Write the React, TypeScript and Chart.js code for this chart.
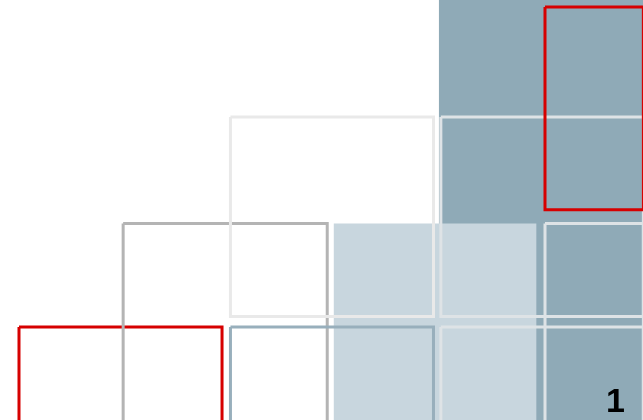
import React, { useEffect, useRef } from "react";
import { Chart, registerables } from "chart.js";

Chart.register(...registerables);

// Rectangles in grid units (x: columns, y: rows counted downward)
const rectLeft = [3.99, 2.99, 0, 0.99, 2.01, 2.01, 4.01, 5.0, 5.0, 4.01];
const rectRight = [5.98, 4.92, 1.93, 2.93, 3.94, 3.94, 5.935, 5.935, 5.935, 5.935];
const rectTop = [-0.5, 2.03, 3.0, 2.03, 1.03, 3.0, 1.03, 0, 2.03, 3.0];
const rectBottom = [3.95, 3.95, 4.9, 3.95, 2.9, 4.9, 2.9, 1.9, 3.95, 4.9];

// Styles (kept separate from the values)
const rectFilled = [true, true, false, false, false, false, false, false, false, false];
const rectColor = [
  "rgb(143,170,183)",
  "rgb(200,214,222)",
  "rgb(214,0,0)",
  "rgb(180,180,180)",
  "rgb(233,233,233)",
  "rgb(152,175,188)",
  "rgb(222,227,230)",
  "rgb(214,0,0)",
  "rgb(222,227,230)",
  "rgb(222,227,230)",
];
const rectLineWidth = [0, 0, 3, 3, 3, 3, 3, 3, 3, 3];

const cornerLabel = "1";

const X_MIN = -0.1806;
const X_MAX = 5.9316;
const Y_MIN = -0.0656;
const Y_MAX = 3.8707;

export default function App() {
  const canvasRef = useRef<HTMLCanvasElement | null>(null);

  useEffect(() => {
    const canvas = canvasRef.current;
    if (!canvas) return;
    const n = rectLeft.length;
    const datasets = rectLeft.map((x0, i) => {
      const x1 = rectRight[i];
      const y0 = rectTop[i];
      const y1 = rectBottom[i];
      if (rectFilled[i]) {
        return {
          data: [
            { x: x0, y: y0 },
            { x: x1, y: y0 },
          ],
          fill: { value: y1 },
          backgroundColor: rectColor[i],
          borderColor: rectColor[i],
          borderWidth: 0,
          pointRadius: 0,
          tension: 0,
          order: n - i,
        };
      }
      return {
        data: [
          { x: x0, y: y0 },
          { x: x1, y: y0 },
          { x: x1, y: y1 },
          { x: x0, y: y1 },
          { x: x0, y: y0 },
        ],
        fill: false,
        borderColor: rectColor[i],
        backgroundColor: "transparent",
        borderWidth: rectLineWidth[i],
        borderJoinStyle: "miter" as const,
        pointRadius: 0,
        tension: 0,
        order: n - i,
      };
    });

    const chart = new Chart(canvas, {
      type: "line",
      data: { datasets: datasets as any },
      options: {
        animation: false,
        responsive: false,
        devicePixelRatio: 1,
        layout: { padding: 0 },
        plugins: {
          legend: { display: false },
          tooltip: { enabled: false },
          title: { display: false },
        },
        events: [],
        scales: {
          x: { type: "linear", min: X_MIN, max: X_MAX, display: false },
          y: { type: "linear", min: Y_MIN, max: Y_MAX, reverse: true, display: false },
        },
      },
    });
    return () => chart.destroy();
  }, []);

  return (
    <div
      style={{
        position: "fixed",
        left: 0,
        top: 0,
        width: 643,
        height: 420,
        background: "#ffffff",
        overflow: "hidden",
      }}
    >
      <canvas ref={canvasRef} width={643} height={420} style={{ display: "block" }} />
      <div
        style={{
          position: "absolute",
          right: 18,
          top: 383,
          fontFamily: "Arial, 'Liberation Sans', sans-serif",
          fontWeight: 700,
          fontSize: 34,
          lineHeight: "34px",
          color: "#000000",
        }}
      >
        {cornerLabel}
      </div>
    </div>
  );
}
